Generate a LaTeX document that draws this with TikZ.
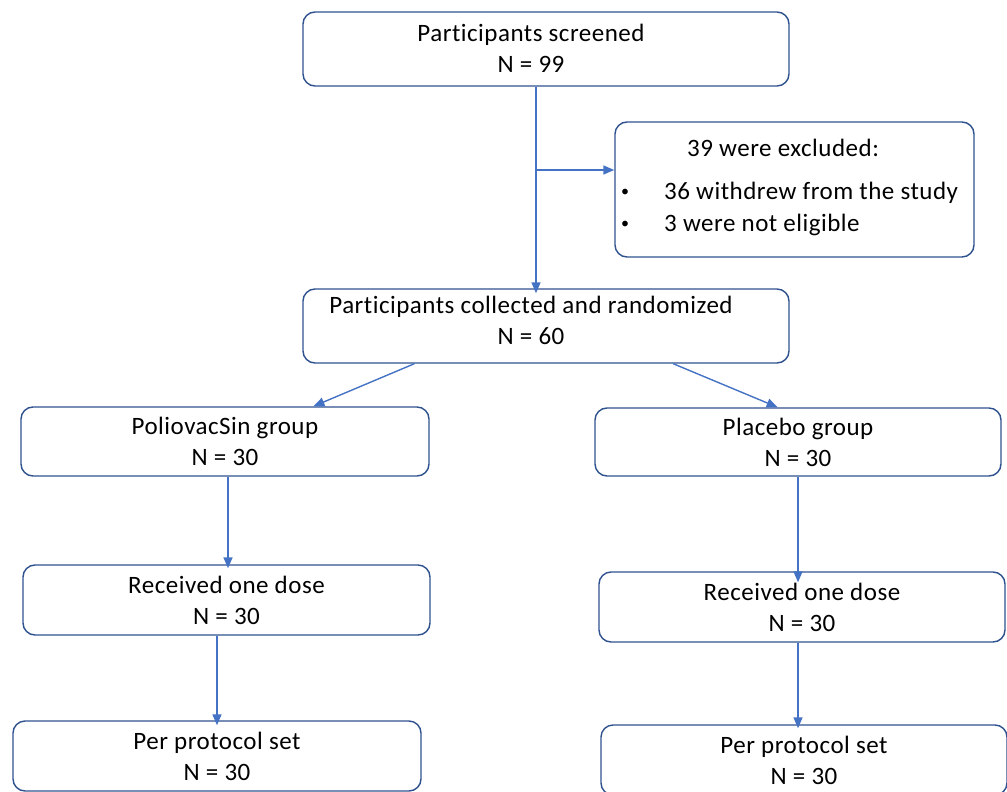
\documentclass[tikz,border=0pt]{standalone}
\usepackage{fontspec}
\setmainfont{Carlito}[Ligatures={NoCommon},LetterSpace=2.0]
\usetikzlibrary{arrows.meta,calc}
\definecolor{boxblue}{HTML}{2F528F}
\definecolor{arrblue}{HTML}{4472C4}
\begin{document}
\begin{tikzpicture}[x=1pt,y=-1pt,
  box/.style={draw=boxblue,line width=1.4pt,rounded corners=12pt,fill=white,
    align=center,font=\fontsize{25}{31}\selectfont,inner sep=0pt},
  ctxt/.style={font=\fontsize{25}{31}\selectfont,inner sep=0pt,align=center},
  txt/.style={font=\fontsize{25}{31}\selectfont,inner sep=0pt,anchor=west},
  bul/.style={font=\fontsize{16}{20}\selectfont,inner sep=0pt},
  arr/.style={draw=arrblue,line width=1.4pt,-{Triangle[length=11pt,width=9pt]}}]
\useasboundingbox (0,0) rectangle (1007,792);
% boxes
\node[box,minimum width=486pt,minimum height=74pt] (screen) at (546,49) {};
\node[ctxt] (screent) at (531,48.5) {Participants screened\\N = 99};
\node[box,minimum width=359pt,minimum height=135pt] (excl) at (794.5,189.5) {};
\node[txt] (exclt) at (687,148) {39 were excluded:};
\node[bul] (b1) at (625,193) {•};
\node[txt] (e1) at (664,193) {36 withdrew from the study};
\node[bul] (b2) at (625,225) {•};
\node[txt] (e2) at (664,225) {3 were not eligible};
\node[box,minimum width=486pt,minimum height=74pt] (rand) at (546,326) {};
\node[ctxt] (randt) at (531,320.5) {Participants collected and randomized\\N = 60};
\node[box,minimum width=408pt,minimum height=69pt] (g1) at (225,441.5)
  {PoliovacSin group\\N = 30};
\node[box,minimum width=406pt,minimum height=68pt] (g2) at (798,442)
  {Placebo group\\N = 30};
\node[box,minimum width=407pt,minimum height=70pt] (d1) at (226.5,600)
  {Received one dose\\N = 30};
\node[box,minimum width=406pt,minimum height=70pt] (d2) at (802,607)
  {Received one dose\\N = 30};
\node[box,minimum width=408pt,minimum height=70pt] (p1) at (217,756)
  {Per protocol set\\N = 30};
\node[box,minimum width=406pt,minimum height=70pt] (p2) at (804,760)
  {Per protocol set\\N = 30};
% connectors
\coordinate (branch) at (536,170);
\draw[arr] (screen.south -| branch) -- ([yshift=-5pt]rand.north -| branch);
\draw[arr] (branch) -- (excl.west |- branch);
\draw[arr] ($(rand.south west)!0.23!(rand.south east)$) -- ($(g1.north west)!0.716!(g1.north east)$);
\draw[arr] ($(rand.south west)!0.761!(rand.south east)$) -- ($(g2.north west)!0.45!(g2.north east)$);
\draw[arr] ([xshift=3pt]g1.south) -- ([xshift=3pt,yshift=-4pt]g1.south |- d1.north);
\draw[arr] (g2.south) -- ([yshift=-11pt]g2.south |- d2.north);
\draw[arr] ([xshift=-9.5pt]d1.south) -- ([xshift=-9.5pt,yshift=-5pt]d1.south |- p1.north);
\draw[arr] (d2.south -| g2.south) -- ([yshift=-4pt]g2.south |- p2.north);
\end{tikzpicture}
\end{document}
